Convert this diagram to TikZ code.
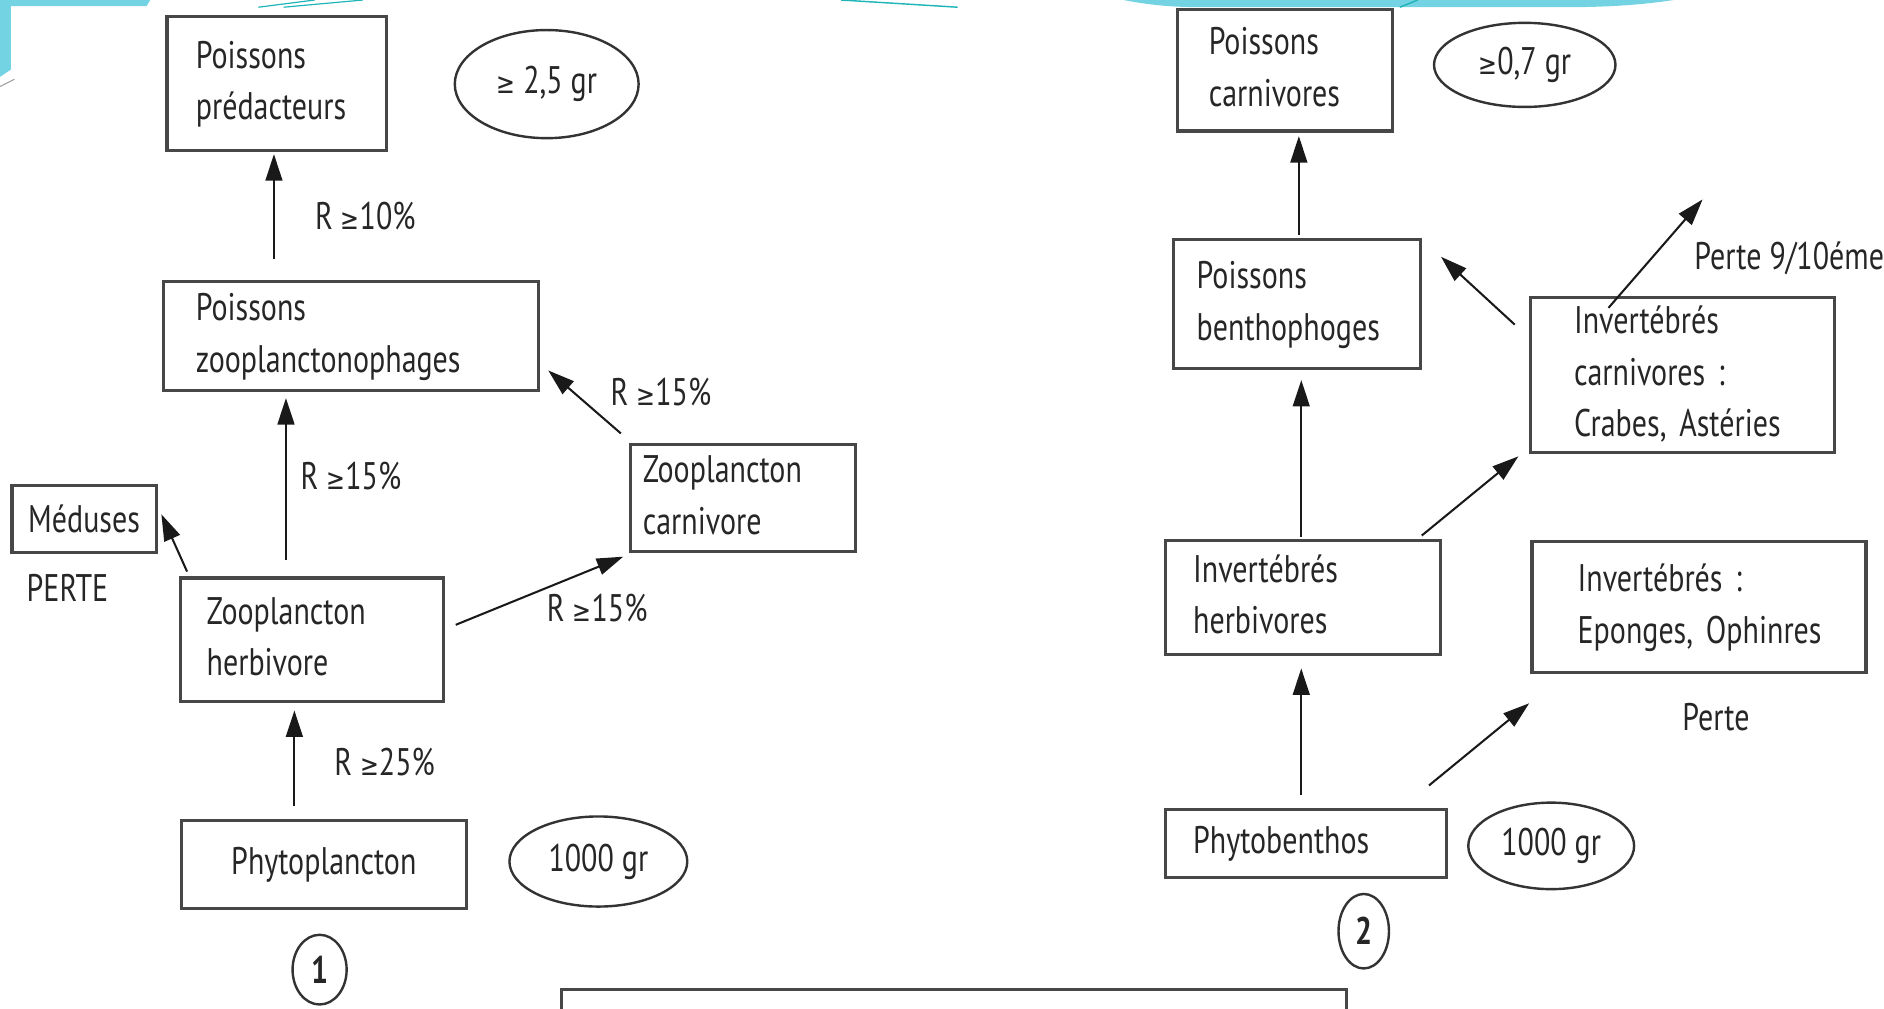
\documentclass[tikz,border=0pt]{standalone}
\usepackage{fontspec}
\setmainfont{PT Sans}[FakeStretch=0.78]
\newfontfamily\symfont{DejaVu Sans}[FakeStretch=0.78]
\usetikzlibrary{arrows.meta,calc,shapes.geometric}
\definecolor{deco}{HTML}{74D3E3}
\definecolor{decoline}{HTML}{1FB5B8}
\definecolor{ink}{HTML}{262626}
\newcommand\gesym{{\symfont\fontsize{24}{24}\selectfont ≥}}
\newcommand\bigtxt{\fontsize{32}{43}\selectfont}
\newcommand\lines[2]{\hspace*{#1pt}\begin{tabular}[c]{@{}l@{}}#2\end{tabular}}
\begin{document}
\begin{tikzpicture}[x=1pt,y=-1pt,
  box/.style={draw=black!72, line width=2.6pt, rectangle, inner xsep=0pt, inner ysep=0pt,
              align=left, text=ink, font=\bigtxt},
  oval/.style={draw=black!80, line width=2pt, ellipse, inner sep=0pt, text=ink, font=\bigtxt},
  conn/.style={-{Triangle[length=22pt,width=14pt]}, line width=1.7pt, draw=black!90},
  lbl/.style={anchor=west, inner sep=0pt, text=ink, font=\bigtxt}]
\useasboundingbox (0,0) rectangle (1568,839);
% slide decoration
\fill[deco] (0,0) -- (125,0) -- (122,5) -- (9,5) -- (9,58) -- (0,64) -- cycle;
\draw[black!40, line width=0.8pt] (0,72) -- (12,66);
\draw[decoline, line width=1pt] (215,6) -- (262,0);
\draw[decoline, line width=1pt] (236,6) -- (302,0);
\draw[decoline, line width=1.2pt] (700,0) -- (797,6);
\fill[deco] (935,0) -- (1393,0) .. controls (1360,5) and (1330,6) .. (1300,6) -- (1000,6) .. controls (975,6) and (955,4) .. cycle;
\draw[decoline, line width=1.2pt] (1165,6) -- (1180,0);

% ---------- diagram 1 ----------
\node[box, text width=183pt, minimum height=111pt] (pp) at (230.5,69.5) {\lines{24}{Poissons\\prédacteurs}};
\node[oval, minimum width=153pt, minimum height=90pt] (e1) at (455,70) {\gesym{} 2,5 gr};
\node[box, text width=312pt, minimum height=91pt] (zp) at (292,279.5) {\lines{27}{Poissons\\zooplanctonophages}};
\node[box, text width=187pt, minimum height=89pt] (zc) at (618.5,414.5) {\lines{10}{Zooplancton\\carnivore}};
\node[box, align=center, text width=120pt, minimum height=56pt] (me) at (70,432) {Méduses};
\node[lbl] (perte1) at (22,489) {PERTE};
\node[box, text width=219pt, minimum height=103pt] (zh) at (259.5,532.5) {\lines{22}{Zooplancton\\herbivore}};
\node[box, align=center, text width=237pt, minimum height=73pt] (ph) at (269.5,719.5) {Phytoplancton};
\node[oval, minimum width=148pt, minimum height=75pt] (e2) at (498,717) {1000 gr};
\node[oval, minimum width=45pt, minimum height=58pt, font=\bigtxt\bfseries] (c1) at (266,807) {1};

\draw[conn] ($(zp.north)+(-64,-17)$) -- ($(pp.south)+(-2.5,2)$);
\node[lbl] (r1) at (262,180) {R \gesym10\%};
\draw[conn] ($(zc.north west)+(-7,-8)$) -- ($(zp.south east)+(7,-18)$);
\node[lbl] (r2) at (508,326) {R \gesym15\%};
\draw[conn] ($(zh.north)+(-21.5,-14)$) -- ($(zp.south)+(-54,5)$);
\node[lbl] (r3) at (250,396) {R \gesym15\%};
\draw[conn] ($(zh.north west)+(7,-4)$) -- ($(me.east)+(3,-4)$);
\draw[conn] ($(zh.east)+(9,-12.5)$) -- ($(zc.south west)+(-5,3)$);
\node[lbl] (r4) at (455,506) {R \gesym15\%};
\draw[conn] ($(ph.north)+(-24.5,-11)$) -- ($(zh.south)+(-14.5,6)$);
\node[lbl] (r5) at (278,634) {R \gesym25\%};

% ---------- diagram 2 ----------
\node[box, text width=179pt, minimum height=101pt] (pc) at (1069.5,58.5) {\lines{26}{Poissons\\carnivores}};
\node[oval, minimum width=151pt, minimum height=70pt] (e3) at (1269,54) {\gesym0,7 gr};
\node[box, text width=205pt, minimum height=108pt] (pb) at (1079.5,253) {\lines{19}{Poissons\\benthophoges}};
\node[box, text width=253pt, minimum height=128pt] (ic) at (1400.5,312) {\lines{36}{Invertébrés\\carnivores :\\Crabes, Astéries}};
\node[box, text width=229pt, minimum height=95pt] (ih) at (1084.5,497.5) {\lines{23}{Invertébrés\\herbivores}};
\node[box, text width=278pt, minimum height=109pt] (ie) at (1414,505.5) {\lines{38}{Invertébrés :\\Eponges, Ophinres}};
\node[lbl] (perte2) at (1400,597) {Perte};
\node[box, text width=234pt, minimum height=56pt] (pt) at (1087,702) {\lines{23}{Phytobenthos}};
\node[oval, minimum width=138pt, minimum height=72pt] (e4) at (1291,704) {1000 gr};
\node[oval, minimum width=42pt, minimum height=62pt, font=\bigtxt\bfseries] (c2) at (1135,775) {2};
\coordinate (loss) at (1417,166);

\draw[conn] ($(pb.north)+(1.5,-2)$) -- ($(pc.south)+(11.5,3)$);
\draw[conn] ($(ic.north west)+(-12,24)$) -- ($(pb.north east)+(16,16)$);
\draw[conn] ($(ic.north west)+(66,10)$) -- (loss);
\node[lbl] (perte3) at (1410,215) {Perte 9/10éme};
\draw[conn] ($(ih.north east)+(-17,-3)$) -- ($(ic.south west)+(-9,2)$);
\draw[conn] ($(ih.north)+(-1.5,-2)$) -- ($(pb.south)+(3.5,8)$);
\draw[conn] ($(pt.north)+(-4,-11)$) -- ($(ih.south)+(-1.5,10)$);
\draw[conn] ($(pt.north east)+(-16,-19)$) -- ($(ie.south west)+(-1,24)$);

% bottom box (cut by the page edge)
\node[box, minimum width=653pt, minimum height=60pt, anchor=north west] (bx) at (466,822) {};
\end{tikzpicture}
\end{document}
